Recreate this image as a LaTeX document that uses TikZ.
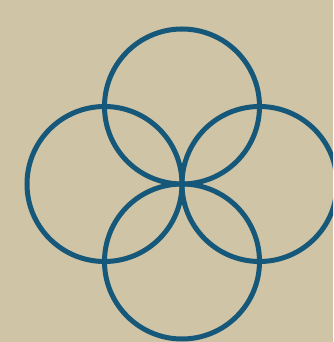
\documentclass[tikz,border=0pt]{standalone}
\definecolor{bg}{RGB}{207,196,166}
\definecolor{ring}{RGB}{22,88,122}
\begin{document}
\begin{tikzpicture}[x=1pt,y=1pt,ringstyle/.style={draw=ring,line width=5pt}]
\useasboundingbox (0,0) rectangle (333,342);
\fill[bg] (0,0) rectangle (333,342);
\clip (0,0) rectangle (333,342);
\draw[ringstyle] (182,235.5) circle (77.5);
\draw[ringstyle] (104.5,158) circle (77.5);
\draw[ringstyle] (259.5,158) circle (77.5);
\draw[ringstyle] (182,80.5) circle (77.5);
\end{tikzpicture}
\end{document}
